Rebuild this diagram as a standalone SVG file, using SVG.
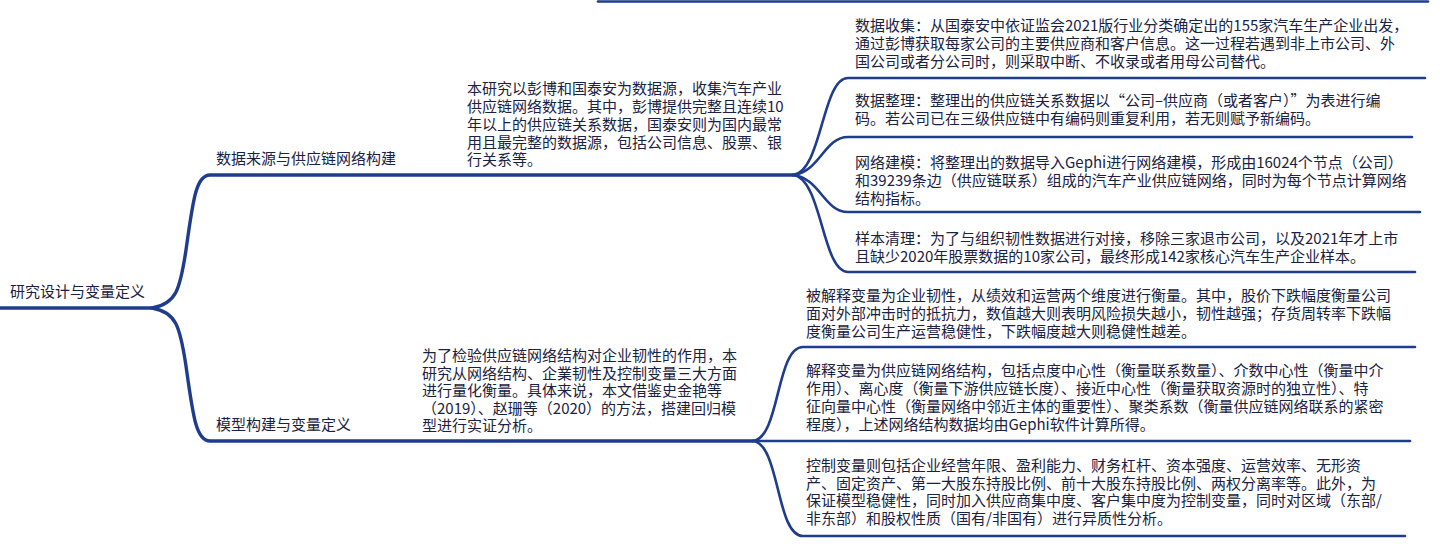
<svg xmlns="http://www.w3.org/2000/svg" width="1440" height="554" viewBox="0 0 1440 554">
<style>
text{font-family:"Noto Sans CJK SC","Noto Sans",sans-serif;font-size:15px;fill:#1a2242;}
.c{fill:none;stroke:#1f3d8c;stroke-linecap:round;stroke-width:2.6;}
.m{stroke-width:3.4;}
</style>
<rect width="1440" height="554" fill="#ffffff"/>
<g id="connectors">
<path class="c" d="M598 1.5 H1428"/>
<path class="c m" d="M0 308 H152 C176 304 180 290 186 250 C193 200 196 175 210 175 H793"/>
<path class="c m" d="M152 308 C176 312 180 326 186 366 C193 416 196 441 210 441 H753"/>
<path class="c" d="M793 175 C822 172 822 78 848 78 H1425"/>
<path class="c" d="M793 175 C820 172 824 137 848 137 H1412"/>
<path class="c" d="M793 175 C820 178 824 212 848 212 H1420"/>
<path class="c" d="M793 175 C822 178 822 272 848 272 H1415"/>
<path class="c" d="M753 441 C780 438 776 347 803 347 H1415"/>
<path class="c" d="M753 441 H1410"/>
<path class="c" d="M753 441 C780 444 776 536 803 536 H1405"/>
</g>
<g id="root"><text x="10" y="297">研究设计与变量定义</text></g>
<g id="branch-data"><text x="216" y="164">数据来源与供应链网络构建</text></g>
<g id="branch-model"><text x="216" y="430">模型构建与变量定义</text></g>
<g id="data-desc">
<text x="467" y="94"><tspan x="467" y="94">本研究以彭博和国泰安为数据源，收集汽车产业</tspan><tspan x="467" y="112">供应链网络数据。其中，彭博提供完整且连续10</tspan><tspan x="467" y="130">年以上的供应链关系数据，国泰安则为国内最常</tspan><tspan x="467" y="147.5">用且最完整的数据源，包括公司信息、股票、银</tspan><tspan x="467" y="165">行关系等。</tspan></text>
</g>
<g id="model-desc">
<text x="422" y="361"><tspan x="422" y="361">为了检验供应链网络结构对企业韧性的作用，本</tspan><tspan x="422" y="378.5">研究从网络结构、企業韧性及控制变量三大方面</tspan><tspan x="422" y="396">进行量化衡量。具体来说，本文借鉴史金艳等</tspan><tspan x="422" y="413.5">（2019）、赵珊等（2020）的方法，搭建回归模</tspan><tspan x="422" y="431">型进行实证分析。</tspan></text>
</g>
<g id="collect">
<text x="855" y="31"><tspan x="855" y="31">数据收集：从国泰安中依证监会2021版行业分类确定出的155家汽车生产企业出发，</tspan><tspan x="855" y="49">通过彭博获取每家公司的主要供应商和客户信息。这一过程若遇到非上市公司、外</tspan><tspan x="855" y="67">国公司或者分公司时，则采取中断、不收录或者用母公司替代。</tspan></text>
</g>
<g id="organize">
<text x="855" y="106"><tspan x="855" y="106">数据整理：整理出的供应链关系数据以“公司–供应商（或者客户）”为表进行编</tspan><tspan x="855" y="124">码。若公司已在三级供应链中有编码则重复利用，若无则赋予新编码。</tspan></text>
</g>
<g id="modeling">
<text x="855" y="168"><tspan x="855" y="168">网络建模：将整理出的数据导入Gephi进行网络建模，形成由16024个节点（公司）</tspan><tspan x="855" y="186">和39239条边（供应链联系）组成的汽车产业供应链网络，同时为每个节点计算网络</tspan><tspan x="855" y="204">结构指标。</tspan></text>
</g>
<g id="cleaning">
<text x="855" y="244"><tspan x="855" y="244">样本清理：为了与组织韧性数据进行对接，移除三家退市公司，以及2021年才上市</tspan><tspan x="855" y="262">且缺少2020年股票数据的10家公司，最终形成142家核心汽车生产企业样本。</tspan></text>
</g>
<g id="dependent">
<text x="806" y="301"><tspan x="806" y="301">被解释变量为企业韧性，从绩效和运营两个维度进行衡量。其中，股价下跌幅度衡量公司</tspan><tspan x="806" y="319">面对外部冲击时的抵抗力，数值越大则表明风险损失越小，韧性越强；存货周转率下跌幅</tspan><tspan x="806" y="337">度衡量公司生产运营稳健性，下跌幅度越大则稳健性越差。</tspan></text>
</g>
<g id="independent">
<text x="806" y="376"><tspan x="806" y="376">解释变量为供应链网络结构，包括点度中心性（衡量联系数量）、介数中心性（衡量中介</tspan><tspan x="806" y="394">作用）、离心度（衡量下游供应链长度）、接近中心性（衡量获取资源时的独立性）、特</tspan><tspan x="806" y="412">征向量中心性（衡量网络中邻近主体的重要性）、聚类系数（衡量供应链网络联系的紧密</tspan><tspan x="806" y="430">程度），上述网络结构数据均由Gephi软件计算所得。</tspan></text>
</g>
<g id="control">
<text x="806" y="471"><tspan x="806" y="471">控制变量则包括企业经营年限、盈利能力、财务杠杆、资本强度、运营效率、无形资</tspan><tspan x="806" y="488.5">产、固定资产、第一大股东持股比例、前十大股东持股比例、两权分离率等。此外，为</tspan><tspan x="806" y="506">保证模型稳健性，同时加入供应商集中度、客户集中度为控制变量，同时对区域（东部/</tspan><tspan x="806" y="523.5">非东部）和股权性质（国有/非国有）进行异质性分析。</tspan></text>
</g>
</svg>
